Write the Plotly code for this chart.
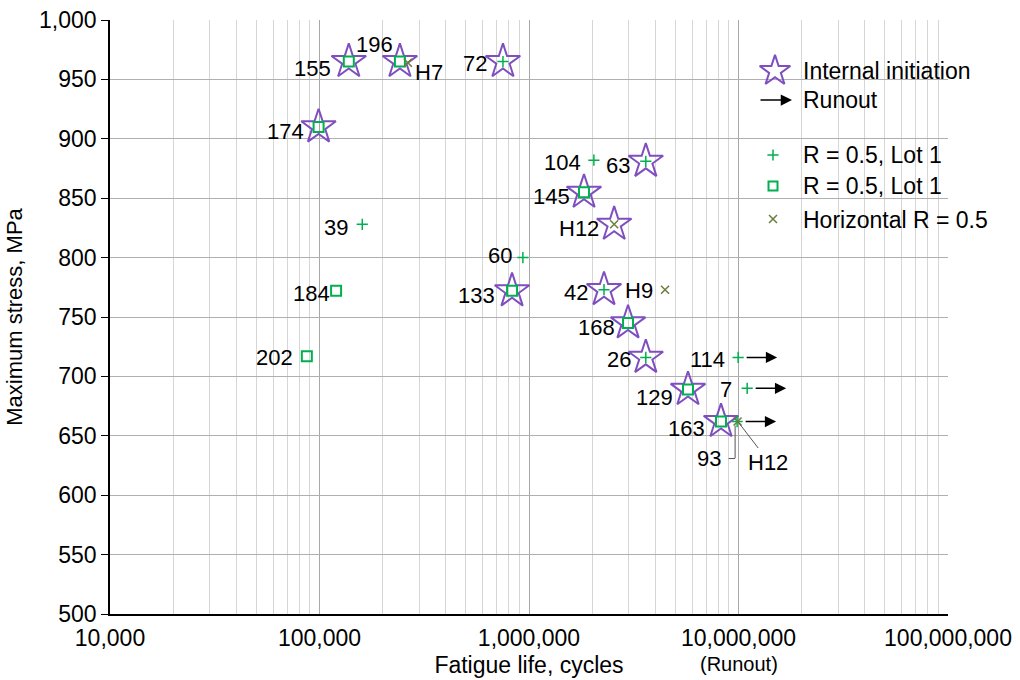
import math
import plotly.graph_objects as go

# ---- data -------------------------------------------------------------
# R = 0.5, Lot 1 (plus markers)
plus_id = ["72", "104", "63", "39", "60", "42", "26", "114", "7", "93"]
plus_N = [751000, 2040000, 3610000, 160000, 935000, 2280000, 3610000, 9960000, 11000000, 9850000]
plus_S = [965, 882, 881, 828, 800, 773, 716, 716, 690, 662]

# R = 0.5, Lot 1 (square markers)
sq_id = ["155", "196", "174", "145", "133", "168", "129", "163", "184", "202"]
sq_N = [138000, 242000, 99000, 1830000, 830000, 2970000, 5740000, 8250000, 120000, 87000]
sq_S = [965, 965, 910, 855, 772, 745, 689, 662, 772, 717]

# Horizontal R = 0.5
hz_id = ["H7", "H12", "H9", "H12"]
hz_N = [264000, 2550000, 4460000, 9900000]
hz_S = [964, 828, 773, 662]

# specimens with internal crack initiation (index 1 of the horizontal set too)
internal = ["155", "196", "72", "174", "63", "145", "133", "42", "168", "26", "129", "163"]
internal_hz_index = [1]

# runouts (did not fail)
runout = ["114", "7", "93"]

x_tick_vals = [1e4, 1e5, 1e6, 1e7, 1e8]
x_tick_text = ["10,000", "100,000", "1,000,000", "10,000,000", "100,000,000"]
y_tick_vals = list(range(500, 1001, 50))
y_tick_text = [f"{v:,}" for v in y_tick_vals]

# ---- style ------------------------------------------------------------
FONT = "Liberation Sans, Arial, sans-serif"
FS = 22
FS_BIG = 23
PURPLE = "#7f4fbf"
GREEN = "#00b050"
OLIVE = "#6b7d3c"

# label placement: (anchor, xshift, yshift) in pixels
label_style = {
    ("sq", "155"): ("right", -16, -7),
    ("sq", "196"): ("center", -25, 17),
    ("hz", "H7"): ("left", 5, -10),
    ("plus", "72"): ("right", -14, -2),
    ("sq", "174"): ("right", -13, -5),
    ("plus", "39"): ("right", -12, -3),
    ("sq", "184"): ("right", -4, -3),
    ("sq", "202"): ("right", -12, -1),
    ("plus", "104"): ("right", -11, -2),
    ("plus", "63"): ("right", -14, -4),
    ("sq", "145"): ("right", -12, -4),
    ("hz", "H12a"): ("right", -13, -4),
    ("plus", "60"): ("right", -9, 2),
    ("sq", "133"): ("right", -15, -5),
    ("plus", "42"): ("right", -14, -3),
    ("hz", "H9"): ("right", -10, -1),
    ("sq", "168"): ("right", -11, -5),
    ("plus", "26"): ("right", -13, -2),
    ("plus", "114"): ("right", -11, -2),
    ("plus", "7"): ("right", -13, -1),
    ("sq", "129"): ("right", -13, -8),
    ("sq", "163"): ("right", -14, -7),
    ("plus", "93"): ("right", -14, -37),
    ("hz", "H12b"): ("left", 8, -41),
}

fig = go.Figure()

# star positions for internally initiated failures
star_N, star_S = [], []
for ids, Ns, Ss in ((sq_id, sq_N, sq_S), (plus_id, plus_N, plus_S)):
    for i, n, s in zip(ids, Ns, Ss):
        if i in internal:
            star_N.append(n)
            star_S.append(s)
for k in internal_hz_index:
    star_N.append(hz_N[k])
    star_S.append(hz_S[k])

fig.add_trace(go.Scatter(
    x=star_N, y=star_S, mode="markers", hoverinfo="skip",
    marker=dict(symbol="star-open", size=26, color=PURPLE, line=dict(width=2, color=PURPLE)),
))
fig.add_trace(go.Scatter(
    x=sq_N, y=sq_S, mode="markers",
    marker=dict(symbol="square-open", size=10, color=GREEN, line=dict(width=2, color=GREEN)),
))
fig.add_trace(go.Scatter(
    x=plus_N, y=plus_S, mode="markers",
    marker=dict(symbol="cross-thin-open", size=8, color=GREEN, line=dict(width=1.5, color=GREEN)),
))
fig.add_trace(go.Scatter(
    x=hz_N, y=hz_S, mode="markers",
    marker=dict(symbol="x-thin-open", size=8, color=OLIVE, line=dict(width=1.5, color=OLIVE)),
))

annotations = []
shapes = []


def add_label(kind, key, text, n, s):
    anchor, dx, dy = label_style[(kind, key)]
    annotations.append(dict(
        x=math.log10(n), y=s, xref="x", yref="y", text=text, showarrow=False,
        xanchor=anchor, yanchor="middle", xshift=dx, yshift=dy,
        font=dict(family=FONT, size=FS, color="black"),
    ))


for i, n, s in zip(sq_id, sq_N, sq_S):
    add_label("sq", i, i, n, s)
for i, n, s in zip(plus_id, plus_N, plus_S):
    add_label("plus", i, i, n, s)
hz_keys = ["H7", "H12a", "H9", "H12b"]
for k, i, n, s in zip(hz_keys, hz_id, hz_N, hz_S):
    add_label("hz", k, i, n, s)


def line_note(x, y, xref, yref, xshift, yshift, ax, ay, head, color, width, size=1.2):
    # text-less annotation used as a plain line or an arrow
    annotations.append(dict(
        x=x, y=y, xref=xref, yref=yref, text="", showarrow=True,
        xshift=xshift, yshift=yshift, ax=ax, ay=ay, arrowhead=head, arrowsize=size,
        arrowwidth=width, arrowcolor=color, standoff=0, startstandoff=0,
        font=dict(size=1), borderpad=0,
    ))


# leader lines for the overlapping points near 10 million cycles
n93 = plus_N[plus_id.index("93")]
s93 = plus_S[plus_id.index("93")]
line_note(math.log10(n93), s93, "x", "y", -2, -4, 0, 33, 0, "#555555", 1)
line_note(math.log10(n93), s93, "x", "y", -2, -37, -7, 0, 0, "#555555", 1)
line_note(math.log10(hz_N[3]), hz_S[3], "x", "y", 1, -1, 20, 26, 0, "#555555", 1)

# runout arrows
for i, n, s in zip(plus_id, plus_N, plus_S):
    if i in runout:
        line_note(math.log10(n), s, "x", "y", 39, 0, -31, 0, 2, "black", 1.5, 1.5)

# ---- legend (drawn on an overlay axis in plot-fraction units) ----------
def px(xp):
    return (xp - 110) / 838


def py(yp):
    return (614 - yp) / 594


shapes.append(dict(type="rect", xref="paper", yref="paper", layer="between",
                   x0=px(746), x1=1.0, y0=py(116), y1=py(58),
                   fillcolor="white", line=dict(width=0)))
shapes.append(dict(type="rect", xref="paper", yref="paper", layer="between",
                   x0=px(746), x1=1.0, y0=py(232), y1=py(136),
                   fillcolor="white", line=dict(width=0)))

fig.add_trace(go.Scatter(x=[px(775)], y=[py(71)], xaxis="x2", yaxis="y2", mode="markers",
                         marker=dict(symbol="star-open", size=23, color=PURPLE,
                                     line=dict(width=2, color=PURPLE))))
fig.add_trace(go.Scatter(x=[px(773)], y=[py(155)], xaxis="x2", yaxis="y2", mode="markers",
                         marker=dict(symbol="cross-thin-open", size=8, color=GREEN,
                                     line=dict(width=1.5, color=GREEN))))
fig.add_trace(go.Scatter(x=[px(773)], y=[py(186)], xaxis="x2", yaxis="y2", mode="markers",
                         marker=dict(symbol="square-open", size=9, color=GREEN,
                                     line=dict(width=2, color=GREEN))))
fig.add_trace(go.Scatter(x=[px(773)], y=[py(219)], xaxis="x2", yaxis="y2", mode="markers",
                         marker=dict(symbol="x-thin-open", size=8, color=OLIVE,
                                     line=dict(width=1.5, color=OLIVE))))

line_note(px(792), py(100), "paper", "paper", 0, 0, -32, 0, 2, "black", 1.5, 1.5)
legend_text = ["Internal initiation", "Runout", "R = 0.5, Lot 1", "R = 0.5, Lot 1",
               "Horizontal R = 0.5"]
legend_y = [71, 100, 155, 186, 220]
for t, yy in zip(legend_text, legend_y):
    annotations.append(dict(x=px(801), y=py(yy), xref="paper", yref="paper", text=t,
                            showarrow=False, xanchor="left", yanchor="middle",
                            font=dict(family=FONT, size=FS_BIG, color="black")))

annotations.append(dict(x=math.log10(1e7), y=-0.062, xref="x", yref="paper", text="(Runout)",
                        showarrow=False, xanchor="center", yanchor="top",
                        font=dict(family=FONT, size=20, color="black")))

minor_vals = [m * 10 ** k for k in range(4, 8) for m in range(2, 10)]

fig.update_layout(
    width=1020, height=680,
    margin=dict(l=110, r=72, t=20, b=66),
    paper_bgcolor="white", plot_bgcolor="white",
    showlegend=False,
    font=dict(family=FONT, size=FS, color="black"),
    xaxis=dict(
        type="log", range=[4, 8], tickmode="array", tickvals=x_tick_vals, ticktext=x_tick_text,
        showline=True, linecolor="black", linewidth=1.5, ticks="", automargin=False,
        ticklabelstandoff=3,
        showgrid=True, gridcolor="#a8a8a8", gridwidth=1, zeroline=False,
        minor=dict(tickmode="array", tickvals=minor_vals, showgrid=True,
                   gridcolor="#d6d6d6", gridwidth=1, ticks=""),
        title=dict(text="Fatigue life, cycles", standoff=7,
                   font=dict(family=FONT, size=FS_BIG, color="black")),
        tickfont=dict(family=FONT, size=FS_BIG, color="black"),
    ),
    yaxis=dict(
        range=[500, 1000], tickmode="array", tickvals=y_tick_vals, ticktext=y_tick_text,
        showline=True, linecolor="black", linewidth=1.5, ticks="outside", ticklen=7,
        tickcolor="black", showgrid=True, gridcolor="#b0b0b0", gridwidth=1, zeroline=False,
        automargin=False,
        title=dict(text="Maximum stress, MPa", standoff=10,
                   font=dict(family=FONT, size=FS, color="black")),
        tickfont=dict(family=FONT, size=FS_BIG, color="black"),
    ),
    xaxis2=dict(overlaying="x", range=[0, 1], visible=False, fixedrange=True),
    yaxis2=dict(overlaying="y", range=[0, 1], visible=False, fixedrange=True),
    annotations=annotations,
    shapes=shapes,
)

fig.write_html("out.html")
